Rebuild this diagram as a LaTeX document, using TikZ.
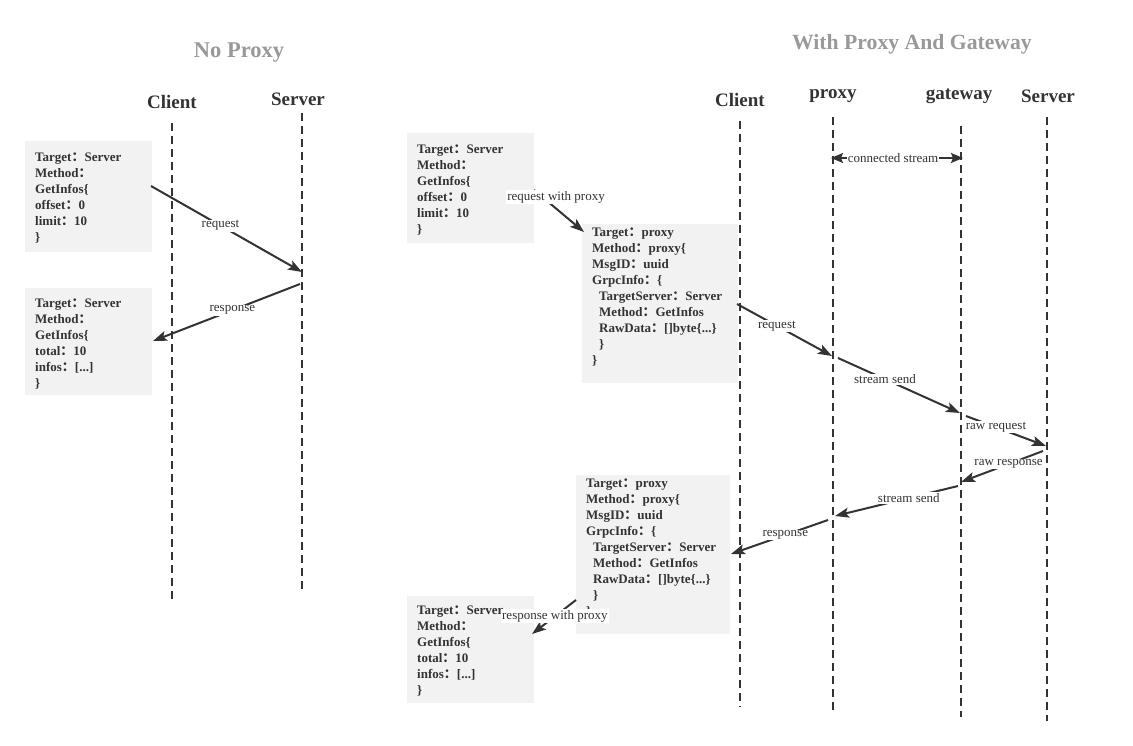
\documentclass[tikz,border=0pt]{standalone}
\usepackage{fontspec}
\setmainfont{Liberation Serif}
\newfontfamily\cjk{Noto Sans CJK SC}
\usetikzlibrary{arrows.meta}
\definecolor{ink}{HTML}{333333}
\definecolor{boxgray}{HTML}{F2F2F2}
\definecolor{titlegray}{HTML}{999999}
\newcommand{\cc}{{\cjk ：}}
\begin{document}
\begin{tikzpicture}[x=1pt,y=-1pt,
  msgbox/.style={fill=boxgray, draw=none, anchor=north west, inner sep=0pt},
  msgtext/.style={anchor=north west, align=left, font=\fontsize{13}{16}\selectfont\bfseries, text=ink, inner sep=0pt},
  life/.style={draw=ink, line width=1.8pt, dash pattern=on 8pt off 5pt},
  msg/.style={draw=ink, line width=2pt, -{Stealth[length=14pt,width=10pt,inset=3pt]}},
  lbl/.style={fill=white, inner sep=1pt, font=\fontsize{13}{15}\selectfont, text=ink},
  head/.style={font=\fontsize{19}{22}\selectfont\bfseries, text=ink},
  title/.style={font=\fontsize{22.5}{26}\selectfont\bfseries, text=titlegray}]
\useasboundingbox (0,0) rectangle (1133,746);

% titles
\node[title] (t1) at (239,53) {No Proxy};
\node[title, font=\fontsize{21.7}{26}\selectfont\bfseries] (t2) at (912,44) {With Proxy And Gateway};

% headers
\node[head] (h1) at (172,102) {Client};
\node[head] (h2) at (298,99) {Server};
\node[head] (h3) at (740,100) {Client};
\node[head] (h4) at (833,96) {proxy};
\node[head] (h5) at (959,96) {gateway};
\node[head] (h6) at (1048,96) {Server};

% boxes
\node[msgbox, minimum width=127pt, minimum height=111pt] (boxA) at (25,141) {};
\node[msgbox, minimum width=127pt, minimum height=107pt] (boxB) at (25,288) {};
\node[msgbox, minimum width=127pt, minimum height=110pt] (boxC) at (407,133) {};
\node[msgbox, minimum width=156pt, minimum height=159pt] (boxD) at (582,224) {};
\node[msgbox, minimum width=154pt, minimum height=159pt] (boxE) at (576,475) {};
\node[msgbox, minimum width=127pt, minimum height=107pt] (boxF) at (407,596) {};

\node[msgtext] (txtA) at (35,153) {Target\cc Server\\Method\cc\\GetInfos\{\\offset\cc 0\\limit\cc 10\\\}};
\node[msgtext] (txtB) at (35,299) {Target\cc Server\\Method\cc\\GetInfos\{\\total\cc 10\\infos\cc [...]\\\}};
\node[msgtext] (txtC) at (417,145) {Target\cc Server\\Method\cc\\GetInfos\{\\offset\cc 0\\limit\cc 10\\\}};
\node[msgtext] (txtD) at (592,228) {Target\cc proxy\\Method\cc proxy\{\\MsgID\cc uuid\\GrpcInfo\cc\{\\\hspace*{7pt}TargetServer\cc Server\\\hspace*{7pt}Method\cc GetInfos\\\hspace*{7pt}RawData\cc []byte\{...\}\\\hspace*{7pt}\}\\\}};
\node[msgtext] (txtE) at (586,479) {Target\cc proxy\\Method\cc proxy\{\\MsgID\cc uuid\\GrpcInfo\cc\{\\\hspace*{7pt}TargetServer\cc Server\\\hspace*{7pt}Method\cc GetInfos\\\hspace*{7pt}RawData\cc []byte\{...\}\\\hspace*{7pt}\}\\\}};
\node[msgtext] (txtF) at (417,606) {Target\cc Server\\Method\cc\\GetInfos\{\\total\cc 10\\infos\cc [...]\\\}};

% lifelines
\coordinate (l1a) at (172,123); \coordinate (l1b) at (172,602);
\coordinate (l2a) at (302,113); \coordinate (l2b) at (302,593);
\coordinate (l3a) at (740,121); \coordinate (l3b) at (740,707);
\coordinate (l4a) at (833,117); \coordinate (l4b) at (833,710);
\coordinate (l5a) at (961,126); \coordinate (l5b) at (961,717);
\coordinate (l6a) at (1047,117); \coordinate (l6b) at (1047,721);
\foreach \i in {1,...,6} \draw[life] (l\i a) -- (l\i b);

% arrow end points
\coordinate (a1s) at (151,186); \coordinate (a1e) at (302,272);
\coordinate (a2s) at (300,284); \coordinate (a2e) at (153,341);
\coordinate (a3s) at (534,190); \coordinate (a3e) at (584,232);
\coordinate (a4s) at (831,158); \coordinate (a4e) at (963,158);
\coordinate (a5s) at (737,304); \coordinate (a5e) at (832,356);
\coordinate (a6s) at (838,358); \coordinate (a6e) at (960,413);
\coordinate (a7s) at (966,416); \coordinate (a7e) at (1046,446);
\coordinate (a8s) at (1043,451); \coordinate (a8e) at (961,482);
\coordinate (a9s) at (958,486); \coordinate (a9e) at (835,516);
\coordinate (a10s) at (828,520); \coordinate (a10e) at (731,554);
\coordinate (a11s) at (576,600); \coordinate (a11e) at (532,634);

\draw[msg] (a1s) -- node[lbl, pos=0.46] (m1) {request} (a1e);
\draw[msg] (a2s) -- node[lbl, pos=0.46] (m2) {response} (a2e);
\draw[msg] (a3s) -- (a3e);
\node[lbl] (m3) at (556,197) {request with proxy};
\draw[draw=ink, line width=1.6pt, {Stealth[length=12pt,width=10pt,inset=2pt]}-{Stealth[length=12pt,width=10pt,inset=2pt]}] (a4s) -- node[lbl, inner sep=0.5pt, pos=0.47] (m4) {connected stream} (a4e);
\draw[msg] (a5s) -- node[lbl, pos=0.42] (m5) {request} (a5e);
\draw[msg] (a6s) -- node[lbl, pos=0.385] (m6) {stream send} (a6e);
\draw[msg] (a7s) -- node[lbl, pos=0.375] (m7) {raw request} (a7e);
\draw[msg] (a8s) -- node[lbl, pos=0.42] (m8) {raw response} (a8e);
\draw[msg] (a9s) -- node[lbl, pos=0.4] (m9) {stream send} (a9e);
\draw[msg] (a10s) -- node[lbl, pos=0.44] (m10) {response} (a10e);
\draw[msg] (a11s) -- node[lbl, pos=0.48] (m11) {response with proxy} (a11e);
\end{tikzpicture}
\end{document}
